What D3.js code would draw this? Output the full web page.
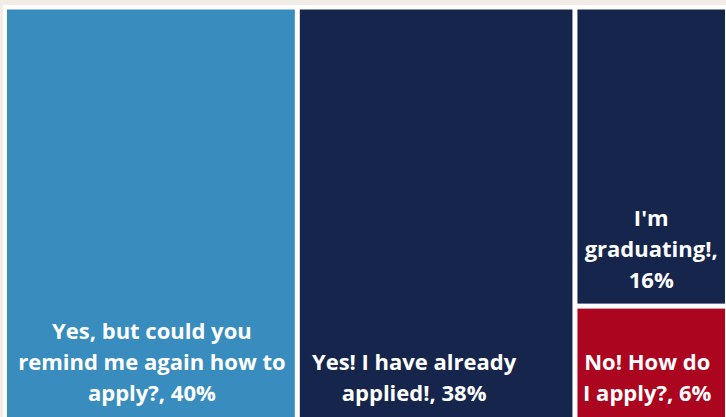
<!DOCTYPE html>
<html>
<head>
<meta charset="utf-8">
<script src="https://cdn.jsdelivr.net/npm/d3@7"></script>
<style>
  html, body { margin: 0; padding: 0; background: #f2ece6; }
  #canvas { width: 726px; height: 417px; overflow: hidden; }
</style>
</head>
<body>
<div id="canvas"></div>
<script>
"use strict";

/* data */
let categories = ["Yes, but could you remind me again how to apply?", "Yes! I have already applied!", "I'm graduating!", "No! How do I apply?"];
let shares = [40.5, 38.4, 15.3, 5.8];      // cell sizes, estimated from the areas
let pctLabels = ["40%", "38%", "16%", "6%"];
let labelLines = [
    ["Yes, but could you", "remind me again how to", "apply?, 40%"],
    ["Yes! I have already", "applied!, 38%"],
    ["I'm", "graduating!,", "16%"],
    ["No! How do", "I apply?, 6%"]
];
let colors = ["#388dbe", "#16254c", "#16254c", "#ab0520"];

/* layout */
let svgWidth = 726;
let svgHeight = 417;
let frameX = 3, frameY = 5;
let plotX = 7, plotY = 9.5;
let plotW = 718, plotH = 407.5;
let gap = 5;
let lineH = 31;
let bottomPad = 16;
let labelDx = [1, -22, 0, -4];

let svg = d3.select("#canvas")
    .append("svg")
    .attr("width", svgWidth)
    .attr("height", svgHeight);

/* white chart frame on the beige page */
svg.append("rect")
    .attr("x", frameX)
    .attr("y", frameY)
    .attr("width", svgWidth)
    .attr("height", svgHeight)
    .attr("fill", "#ffffff");

let rows = categories.map((c, i) => ({name: c, value: shares[i], pct: pctLabels[i], idx: i}));

let root = d3.hierarchy({children: rows})
    .sum(d => d.value || 0);

d3.treemap()
    .tile(d3.treemapSquarify.ratio(1))
    .size([plotW, plotH])
    .paddingInner(gap)
    .round(false)(root);

let g = svg.append("g")
    .attr("transform", `translate(${plotX},${plotY})`);

let cell = g.selectAll("g.cell")
    .data(root.leaves())
    .join("g")
    .attr("class", "cell");

cell.append("rect")
    .attr("x", d => d.x0)
    .attr("y", d => d.y0)
    .attr("width", d => d.x1 - d.x0)
    .attr("height", d => d.y1 - d.y0)
    .attr("fill", d => colors[d.data.idx]);

/* labels sit near the bottom of each cell */
cell.append("text")
    .attr("text-anchor", "middle")
    .attr("fill", "#ffffff")
    .style("font-family", "'Open Sans', sans-serif")
    .style("font-weight", "bold")
    .style("font-size", "22px")
    .each(function(d) {
        let lines = labelLines[d.data.idx];
        let cx = (d.x0 + d.x1) / 2 + labelDx[d.data.idx];
        let lastY = Math.min(d.y1, svgHeight - plotY) - bottomPad;
        let t = d3.select(this);
        lines.forEach(function(line, j) {
            t.append("tspan")
                .attr("x", cx)
                .attr("y", lastY - (lines.length - 1 - j) * lineH)
                .text(line);
        });
    });
</script>
</body>
</html>
